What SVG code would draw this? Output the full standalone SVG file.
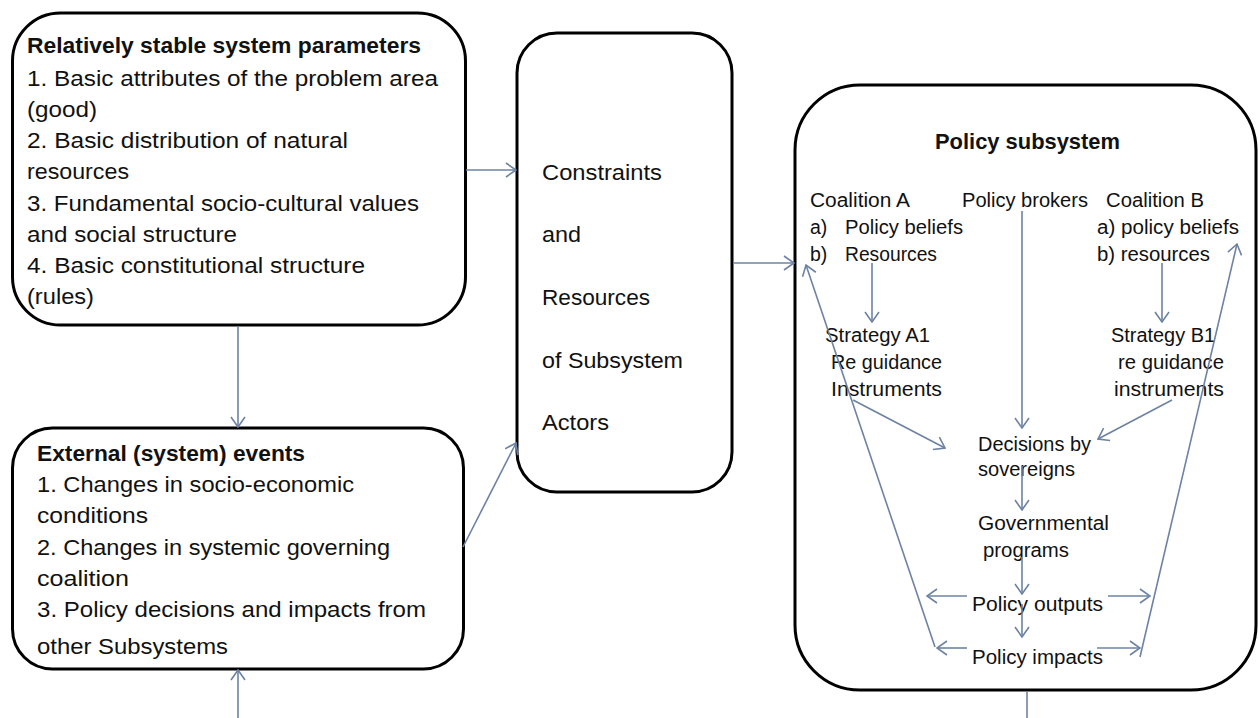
<svg xmlns="http://www.w3.org/2000/svg" width="1258" height="718" viewBox="0 0 1258 718">
<style>
.box{fill:#fff;stroke:#000;stroke-width:3}
.t{font-family:"Liberation Sans",Arial,sans-serif;font-size:22px;fill:#111}
.s{font-family:"Liberation Sans",Arial,sans-serif;font-size:19.5px;fill:#111}
.b{font-weight:bold}
.c{fill:none;stroke:#6d83a3;stroke-width:1.6}
</style>
<defs>
<marker id="ah" viewBox="0 0 12 16" refX="11" refY="8" markerWidth="12" markerHeight="16" markerUnits="userSpaceOnUse" orient="auto">
<path d="M1,1 L11,8 L1,15" fill="none" stroke="#6d83a3" stroke-width="1.6"/>
</marker>
</defs>
<rect width="1258" height="718" fill="#fff"/>
<g id="stable-parameters">
<rect class="box" x="12.5" y="13" width="453" height="312" rx="48"/>
<text class="t b" x="27" y="53" textLength="394" lengthAdjust="spacingAndGlyphs">Relatively stable system parameters</text>
<text class="t" x="27" y="86" textLength="411" lengthAdjust="spacingAndGlyphs">1. Basic attributes of the problem area</text>
<text class="t" x="27" y="117" textLength="70" lengthAdjust="spacingAndGlyphs">(good)</text>
<text class="t" x="27" y="148" textLength="321" lengthAdjust="spacingAndGlyphs">2. Basic distribution of natural</text>
<text class="t" x="27" y="179" textLength="102" lengthAdjust="spacingAndGlyphs">resources</text>
<text class="t" x="27" y="211" textLength="392" lengthAdjust="spacingAndGlyphs">3. Fundamental socio-cultural values</text>
<text class="t" x="27" y="242" textLength="210" lengthAdjust="spacingAndGlyphs">and social structure</text>
<text class="t" x="27" y="273" textLength="338" lengthAdjust="spacingAndGlyphs">4. Basic constitutional structure</text>
<text class="t" x="27" y="304" textLength="67" lengthAdjust="spacingAndGlyphs">(rules)</text>
</g>
<g id="external-events">
<rect class="box" x="12.5" y="428" width="451" height="241" rx="40"/>
<text class="t b" x="37" y="461" textLength="268" lengthAdjust="spacingAndGlyphs">External (system) events</text>
<text class="t" x="37" y="492" textLength="317" lengthAdjust="spacingAndGlyphs">1. Changes in socio-economic</text>
<text class="t" x="37" y="523" textLength="111" lengthAdjust="spacingAndGlyphs">conditions</text>
<text class="t" x="37" y="555" textLength="353" lengthAdjust="spacingAndGlyphs">2. Changes in systemic governing</text>
<text class="t" x="37" y="586" textLength="92" lengthAdjust="spacingAndGlyphs">coalition</text>
<text class="t" x="37" y="617" textLength="389" lengthAdjust="spacingAndGlyphs">3. Policy decisions and impacts from</text>
<text class="t" x="37" y="654" textLength="191" lengthAdjust="spacingAndGlyphs">other Subsystems</text>
</g>
<g id="constraints">
<rect class="box" x="517" y="33" width="215" height="459" rx="40"/>
<text class="t" x="542" y="180" textLength="120" lengthAdjust="spacingAndGlyphs">Constraints</text>
<text class="t" x="542" y="242" textLength="39" lengthAdjust="spacingAndGlyphs">and</text>
<text class="t" x="542" y="305" textLength="108" lengthAdjust="spacingAndGlyphs">Resources</text>
<text class="t" x="542" y="368" textLength="141" lengthAdjust="spacingAndGlyphs">of Subsystem</text>
<text class="t" x="542" y="430" textLength="67" lengthAdjust="spacingAndGlyphs">Actors</text>
</g>
<g id="policy-subsystem">
<rect class="box" x="795" y="85" width="461" height="605" rx="65"/>
<text class="t b" x="935" y="149" textLength="185" lengthAdjust="spacingAndGlyphs">Policy subsystem</text>
</g>
<g id="coalition-a">
<text class="s" x="810" y="207" textLength="100" lengthAdjust="spacingAndGlyphs">Coalition A</text>
<text class="s" x="810" y="234">a)</text>
<text class="s" x="845" y="234" textLength="118" lengthAdjust="spacingAndGlyphs">Policy beliefs</text>
<text class="s" x="810" y="261">b)</text>
<text class="s" x="845" y="261" textLength="92" lengthAdjust="spacingAndGlyphs">Resources</text>
</g>
<g id="policy-brokers">
<text class="s" x="962" y="207" textLength="126" lengthAdjust="spacingAndGlyphs">Policy brokers</text>
</g>
<g id="coalition-b">
<text class="s" x="1106" y="207" textLength="98" lengthAdjust="spacingAndGlyphs">Coalition B</text>
<text class="s" x="1097" y="234" textLength="142" lengthAdjust="spacingAndGlyphs">a) policy beliefs</text>
<text class="s" x="1097" y="261" textLength="113" lengthAdjust="spacingAndGlyphs">b) resources</text>
</g>
<g id="strategy-a1">
<text class="s" x="825" y="342" textLength="105" lengthAdjust="spacingAndGlyphs">Strategy A1</text>
<text class="s" x="831" y="369" textLength="111" lengthAdjust="spacingAndGlyphs">Re guidance</text>
<text class="s" x="831" y="396" textLength="111" lengthAdjust="spacingAndGlyphs">Instruments</text>
</g>
<g id="strategy-b1">
<text class="s" x="1111" y="342" textLength="104" lengthAdjust="spacingAndGlyphs">Strategy B1</text>
<text class="s" x="1118" y="369" textLength="106" lengthAdjust="spacingAndGlyphs">re guidance</text>
<text class="s" x="1114" y="396" textLength="110" lengthAdjust="spacingAndGlyphs">instruments</text>
</g>
<g id="decisions">
<text class="s" x="978" y="451" textLength="113" lengthAdjust="spacingAndGlyphs">Decisions by</text>
<text class="s" x="978" y="476" textLength="97" lengthAdjust="spacingAndGlyphs">sovereigns</text>
</g>
<g id="governmental-programs">
<text class="s" x="978" y="530" textLength="131" lengthAdjust="spacingAndGlyphs">Governmental</text>
<text class="s" x="983" y="557" textLength="86" lengthAdjust="spacingAndGlyphs">programs</text>
</g>
<g id="policy-outputs">
<text class="s" x="972" y="611" textLength="131" lengthAdjust="spacingAndGlyphs">Policy outputs</text>
</g>
<g id="policy-impacts">
<text class="s" x="972" y="664" textLength="131" lengthAdjust="spacingAndGlyphs">Policy impacts</text>
</g>
<g id="connectors">
<line class="c" x1="238" y1="326" x2="238" y2="427" marker-end="url(#ah)"/>
<line class="c" x1="238" y1="718" x2="238" y2="670" marker-end="url(#ah)"/>
<line class="c" x1="466" y1="170" x2="516" y2="170" marker-end="url(#ah)"/>
<line class="c" x1="463" y1="547" x2="516" y2="443" marker-end="url(#ah)"/>
<line class="c" x1="733" y1="263" x2="794" y2="263" marker-end="url(#ah)"/>
<line class="c" x1="1027" y1="691" x2="1027" y2="718"/>
<line class="c" x1="872" y1="263" x2="872" y2="322" marker-end="url(#ah)"/>
<line class="c" x1="1022" y1="211" x2="1022" y2="428" marker-end="url(#ah)"/>
<line class="c" x1="1162" y1="263" x2="1162" y2="322" marker-end="url(#ah)"/>
<line class="c" x1="853" y1="400" x2="945" y2="448" marker-end="url(#ah)"/>
<line class="c" x1="1172" y1="400" x2="1098" y2="439" marker-end="url(#ah)"/>
<line class="c" x1="935" y1="647" x2="806" y2="265" marker-end="url(#ah)"/>
<line class="c" x1="1140" y1="657" x2="1237" y2="244" marker-end="url(#ah)"/>
<line class="c" x1="1022" y1="466" x2="1022" y2="510" marker-end="url(#ah)"/>
<line class="c" x1="1022" y1="557" x2="1022" y2="594" marker-end="url(#ah)"/>
<line class="c" x1="1022" y1="604" x2="1022" y2="637" marker-end="url(#ah)"/>
<line class="c" x1="967" y1="596" x2="927" y2="596" marker-end="url(#ah)"/>
<line class="c" x1="1108" y1="596" x2="1150" y2="596" marker-end="url(#ah)"/>
<line class="c" x1="967" y1="648" x2="937" y2="648" marker-end="url(#ah)"/>
<line class="c" x1="1097" y1="648" x2="1140" y2="648" marker-end="url(#ah)"/>
</g>
</svg>
